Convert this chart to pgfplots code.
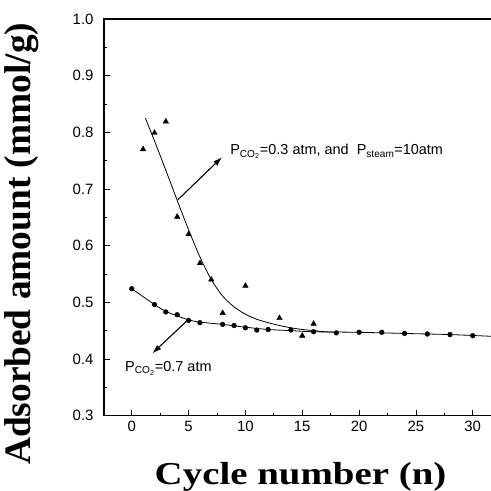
\documentclass[border=0pt]{standalone}
\usepackage{fontspec}
\setmainfont{Liberation Serif}
\setsansfont{Liberation Sans}
\usepackage{graphicx}
\usepackage{pgfplots}
\pgfplotsset{compat=1.18}
\usetikzlibrary{arrows.meta}

\newcommand{\lab}{\sffamily\fontsize{14.5}{14.5}\selectfont}

\begin{document}
\begin{tikzpicture}
\useasboundingbox (-104bp,-75.4bp) rectangle (387bp,415.6bp);
\begin{axis}[
    scale only axis,
    width=390bp, height=396.6bp,
    xmin=-2.44, xmax=31.87,
    ymin=0.3, ymax=1.0,
    xtick={0,5,...,30},
    ytick={0.3,0.4,...,1.0},
    minor x tick num=1,
    minor y tick num=1,
    tick align=inside,
    xtick pos=bottom, ytick pos=left,
    major tick length=6bp, minor tick length=3bp,
    axis line style={line width=1.1pt},
    tick style={line width=0.8pt, black},
    /pgf/number format/assume math mode=true,
    yticklabel style={/pgf/number format/fixed, /pgf/number format/fixed zerofill, /pgf/number format/precision=1, xshift=-7bp},
    ticklabel style={font=\sffamily\fontsize{15}{15}\selectfont},
    xticklabel style={yshift=-2bp},
    xlabel={\scalebox{1.22}[1]{\bfseries\fontsize{32}{32}\selectfont Cycle number (n)}},
    xlabel style={at={(rel axis cs:0.504,0)}, anchor=base, yshift=-68.4bp},
    ylabel={\bfseries\fontsize{37.5}{37.5}\selectfont Adsorbed amount (mmol/g)},
    ylabel style={at={([xshift=-82bp]rel axis cs:0,0.433)}, anchor=center},
]
% P_CO2 = 0.7 atm
\addplot[only marks, mark=*, mark size=2.4pt, black] coordinates {
  (0,0.524) (2,0.496) (3,0.483) (4,0.478) (5,0.468) (6,0.464)
  (8,0.461) (9,0.459) (10,0.455) (11,0.451) (12,0.452)
  (14,0.451) (16,0.448) (18,0.446) (20,0.447) (22,0.447)
  (24,0.445) (26,0.444) (28,0.443) (30,0.441)
};
\addplot[smooth, black, line width=0.8pt] coordinates {
  (0,0.524) (2,0.496) (3,0.484) (4,0.476) (5,0.469) (6,0.465)
  (8,0.461) (10,0.456) (12,0.452) (14,0.450) (16,0.448)
  (20,0.447) (24,0.445) (28,0.443) (31.6,0.440)
};
% P_CO2 = 0.3 atm, P_steam = 10 atm
\addplot[only marks, mark=triangle*, mark size=3.2pt, black] coordinates {
  (1,0.770) (2,0.799) (3,0.819) (4,0.651) (5,0.620) (6,0.569)
  (7,0.540) (8,0.481) (10,0.529) (13,0.472) (15,0.441) (16,0.462)
};
\addplot[smooth, black, line width=0.8pt] coordinates {
  (1.2,0.825) (2,0.785) (3,0.733) (4,0.680) (5,0.628) (6,0.580)
  (7,0.540) (8,0.511) (9,0.492) (10,0.479) (11,0.470) (12,0.464)
  (13,0.459) (14,0.455) (15,0.452) (16,0.450) (17,0.448) (18,0.447)
};
\draw[line width=1.1pt, -{Latex[length=9bp,width=6bp]}] (axis cs:4.06,0.681) -- (axis cs:7.94,0.756);
\draw[line width=1.1pt, -{Latex[length=9bp,width=6bp]}] (axis cs:4.9,0.468) -- (axis cs:1.82,0.41);
\node[anchor=base west, inner sep=0pt, font=\lab] at (axis cs:8.65,0.760)
  {P\textsubscript{CO\textsubscript{2}}=0.3 atm, and\ \ P\textsubscript{steam}=10atm};
\node[anchor=base west, inner sep=0pt, font=\lab] at (axis cs:-0.59,0.378)
  {P\textsubscript{CO\textsubscript{2}}=0.7 atm};
\end{axis}
\end{tikzpicture}
\end{document}
